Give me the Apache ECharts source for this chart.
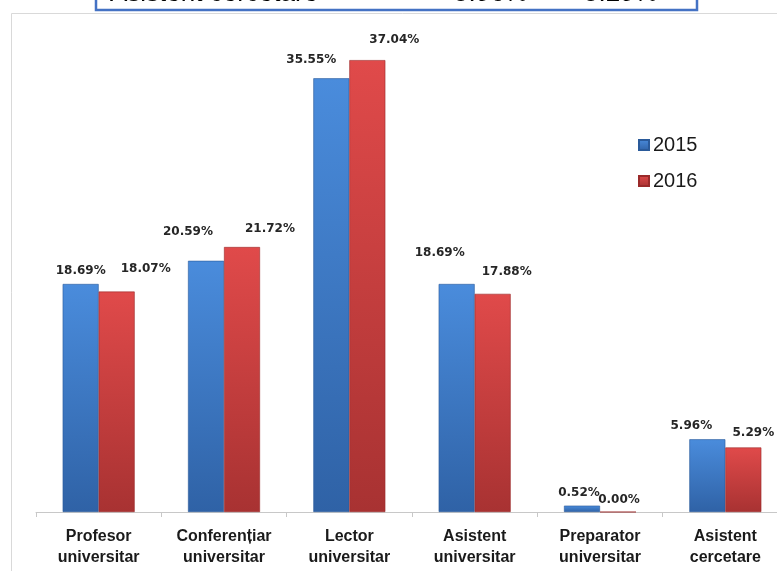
<!DOCTYPE html>
<html>
<head>
<meta charset="utf-8">
<script src="https://cdn.jsdelivr.net/npm/echarts@6/dist/echarts.min.js"></script>
<style>html,body{margin:0;padding:0;background:#fff;overflow:hidden;width:777px;height:571px;}#c{width:792px;height:571px;}</style>
</head>
<body>
<div id="c"></div>
<script>
const categories = ["Profesor\nuniversitar", "Conferențiar\nuniversitar", "Lector\nuniversitar", "Asistent\nuniversitar", "Preparator\nuniversitar", "Asistent\ncercetare"];
const seriesNames = ["2015", "2016"];
const values2015 = [18.69, 20.59, 35.55, 18.69, 0.52, 5.96];
const values2016 = [18.07, 21.72, 37.04, 17.88, 0.00, 5.29];
const tableRowLabel = "Asistent cercetare";
const tableRowValues = ["5.96%", "5.29%"];

// label placement offsets (layout only)
const off2015 = [[0,-7],[-18,-23],[-20,-12],[-17,-25],[-3,-7],[-16,-7]];
const off2016 = [[29,-17],[28,-12],[27,-14],[14,-16],[1,-6],[10,-9]];

const blueGrad = new echarts.graphic.LinearGradient(0,0,0,1,[{offset:0,color:'#4a8cdc'},{offset:1,color:'#2f62a6'}]);
const redGrad = new echarts.graphic.LinearGradient(0,0,0,1,[{offset:0,color:'#e04a4a'},{offset:1,color:'#a83232'}]);

function mk(vals, offs) {
  return vals.map((v,i)=>({value:v, label:{offset:offs[i]}}));
}
const labelStyle = {show:true, position:'top', distance:0, fontFamily:'DejaVu Sans', fontWeight:'bold', fontSize:12, color:'#262626', formatter:p=>p.value.toFixed(2)+'%'};

const chart = echarts.init(document.getElementById('c'));
chart.setOption({
  animation:false,
  backgroundColor:'#fff',
  grid:{left:36, top:24, width:752, height:488},
  legend:{orient:'vertical', left:633, top:130, itemWidth:10, itemHeight:10, itemGap:16, icon:'rect',
    textStyle:{fontFamily:'Liberation Sans', fontSize:20, color:'#1a1a1a', padding:[0,0,0,-1]},
    data:seriesNames},
  xAxis:{type:'category', data:categories,
    axisLine:{show:true, lineStyle:{color:'#c8c8c8'}},
    axisTick:{show:true, length:5, alignWithLabel:false, lineStyle:{color:'#c8c8c8'}},
    axisLabel:{interval:0, margin:14, fontFamily:'Liberation Sans', fontWeight:'bold', fontSize:16, lineHeight:21, color:'#1a1a1a'}},
  yAxis:{type:'value', min:0, max:40, show:false, splitLine:{show:false}},
  series:[
    {name:seriesNames[0], type:'bar', barWidth:36, barGap:'0%', data:mk(values2015,off2015),
      itemStyle:{color:blueGrad, borderColor:'#2a5a9a', borderWidth:0.6}, label:labelStyle},
    {name:seriesNames[1], type:'bar', barWidth:36, barGap:'0%', data:mk(values2016,off2016),
      itemStyle:{color:redGrad, borderColor:'#9a2a2a', borderWidth:0.6}, label:labelStyle}
  ],
  graphic:[
    {type:'rect', left:9, top:11, shape:{width:820, height:620}, style:{fill:'none', stroke:'#d9d9d9', lineWidth:1}, z:-1, silent:true},
    {type:'text', x:110, y:6.5, z:1, style:{text:tableRowLabel, font:'26px "Liberation Sans"', fill:'#000', verticalAlign:'bottom'}},
    {type:'text', x:454, y:6.5, z:1, style:{text:tableRowValues[0], font:'26px "Liberation Sans"', fill:'#000', verticalAlign:'bottom'}},
    {type:'text', x:584, y:6.5, z:1, style:{text:tableRowValues[1], font:'26px "Liberation Sans"', fill:'#000', verticalAlign:'bottom'}},
    {type:'rect', z:2, shape:{x:96, y:-30, width:601, height:40}, style:{fill:'none', stroke:'#4472c4', lineWidth:2.5}, silent:true}
  ]
});
</script>
</body>
</html>
